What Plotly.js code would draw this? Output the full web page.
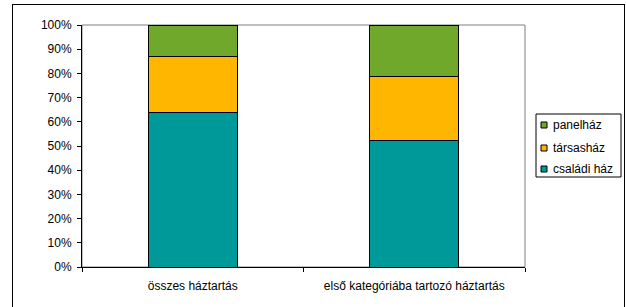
<!DOCTYPE html>
<html>
<head>
<meta charset="utf-8">
<script src="https://cdn.plot.ly/plotly-3.0.1.min.js"></script>
<style>
  html, body { margin: 0; padding: 0; background: #fff; overflow: hidden; }
  #frame { position: absolute; left: 12px; top: 4px; width: 613px; height: 320px; border: 1px solid #000; box-sizing: border-box; pointer-events: none; }
  #chart { position: absolute; left: 0; top: 0; width: 626px; height: 307px; }
</style>
</head>
<body>
<div id="chart"></div>
<div id="frame"></div>
<script>
const categories = ["összes háztartás", "első kategóriába tartozó háztartás"];
const seriesNames = ["családi ház", "társasház", "panelház"];
const csaladiHaz = [64, 52.2];
const tarsashaz = [23.1, 26.4];
const panelhaz = [12.9, 21.4];
const seriesColors = ["#009999", "#FFB600", "#6FA82A"];
const yTickVals = [0, 10, 20, 30, 40, 50, 60, 70, 80, 90, 100];
const yTickText = ["0%", "10%", "20%", "30%", "40%", "50%", "60%", "70%", "80%", "90%", "100%"];

const seriesValues = [csaladiHaz, tarsashaz, panelhaz];
const traces = seriesValues.map((vals, i) => ({
  type: "bar",
  name: seriesNames[i],
  x: categories,
  y: vals,
  width: 0.4,
  marker: { color: seriesColors[i], line: { color: "#000", width: 1 } },
  hoverinfo: "none",
  showlegend: false
}));

// plot-area geometry (pixels) used to place the legend box in paper coords
const W = 626, H = 307, L = 82, R = 525, T = 25, B = 267;
const px = x => (x - L) / (R - L);
const py = y => (B - y) / (B - T);

const font = { family: "Liberation Sans, Arial, sans-serif", size: 12, color: "#000" };

const shapes = [{
  type: "rect", xref: "paper", yref: "paper", x0: 0, x1: 1, y0: 0, y1: 1,
  line: { color: "#808080", width: 1 }, layer: "below"
}, {
  type: "rect", xref: "paper", yref: "paper",
  x0: px(536), x1: px(621), y0: py(177), y1: py(114),
  line: { color: "#000", width: 1 }, fillcolor: "#fff"
}];
const annotations = [];
const itemY = [169, 148, 125]; // családi ház, társasház, panelház
seriesNames.forEach((name, i) => {
  const cy = itemY[i];
  shapes.push({
    type: "rect", xref: "paper", yref: "paper",
    x0: px(541), x1: px(547), y0: py(cy + 3), y1: py(cy - 3),
    line: { color: "#000", width: 1 }, fillcolor: seriesColors[i]
  });
  annotations.push({
    xref: "paper", yref: "paper", x: px(551), y: py(cy),
    xanchor: "left", yanchor: "middle", showarrow: false,
    text: name, font: font
  });
});

const layout = {
  width: W, height: H,
  margin: { l: L, r: W - R, t: T, b: H - B, pad: 0 },
  paper_bgcolor: "#fff", plot_bgcolor: "#fff",
  barmode: "stack",
  font: font,
  showlegend: false,
  xaxis: {
    type: "category",
    showline: true, linecolor: "#000", linewidth: 1,
    ticks: "outside", tickson: "boundaries", ticklen: 4, tickcolor: "#000",
    ticklabelstandoff: 8,
    showgrid: false, zeroline: false, fixedrange: true
  },
  yaxis: {
    range: [0, 100],
    tickvals: yTickVals, ticktext: yTickText,
    showline: true, linecolor: "#000", linewidth: 1,
    ticks: "outside", ticklen: 4, tickcolor: "#000",
    ticklabelstandoff: 3,
    showgrid: false, zeroline: false, fixedrange: true
  },
  shapes: shapes,
  annotations: annotations
};

Plotly.newPlot("chart", traces, layout, { displayModeBar: false, staticPlot: true });
</script>
</body>
</html>
